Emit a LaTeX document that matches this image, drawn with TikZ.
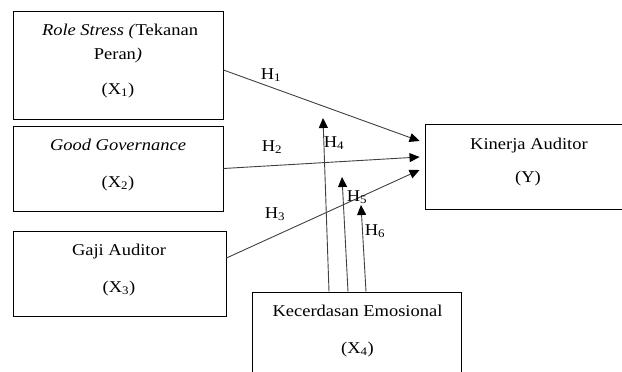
\documentclass[tikz,border=0pt]{standalone}
\usepackage{fontspec}
\setmainfont{Liberation Serif}
\usetikzlibrary{arrows.meta}
\usetikzlibrary{positioning}
\usetikzlibrary{calc}

\tikzset{
  varbox/.style={draw=black, line width=0.9pt, inner sep=0pt},
  txt/.style={anchor=base, inner sep=0pt, font=\fontsize{16.5}{19}\selectfont,
              xscale=1.12, transform shape},
  hyp/.style={draw=black!75, line width=0.9pt,
              -{Triangle[length=10pt,width=9pt,color=black]}},
  hlbl/.style={inner sep=0pt, font=\fontsize{16.5}{19}\selectfont,
               xscale=1.12, transform shape}
}

\begin{document}
\begin{tikzpicture}[x=1pt, y=-1pt]
  \useasboundingbox (0,0) rectangle (622,372);

  % variables
  \node[varbox, minimum width=210pt, minimum height=108pt] (x1) at (118,65) {};
  \node[varbox, minimum width=210pt, minimum height=85pt] (x2) at (118,168.5) {};
  \node[varbox, minimum width=213pt, minimum height=85pt] (x3) at (119.5,273.5) {};
  \node[varbox, minimum width=209pt, minimum height=108pt] (x4) at (356.5,346) {};
  \node[varbox, minimum width=208pt, minimum height=85pt] (ky) at (529,166.5) {};

  \node[txt] (x1a) at (120,35) {\textit{Role Stress (}Tekanan};
  \node[txt] (x1b) at (118,59) {Peran\textit{)}};
  \node[txt] (x1c) at (118,94) {(X\textsubscript{1})};
  \node[txt] (x2a) at (118,150) {\textit{Good Governance}};
  \node[txt] (x2c) at (118,187) {(X\textsubscript{2})};
  \node[txt] (x3a) at (119,255) {Gaji Auditor};
  \node[txt] (x3c) at (119,292) {(X\textsubscript{3})};
  \node[txt] (x4a) at (357.5,316) {Kecerdasan Emosional};
  \node[txt] (x4c) at (357.5,353) {(X\textsubscript{4})};
  \node[txt] (kya) at (529,149) {Kinerja Auditor};
  \node[txt] (kyc) at (528,182) {(Y)};

  % hypotheses
  \coordinate (t4) at (323,118);
  \coordinate (t5) at (342,177);
  \coordinate (t6) at (361,205);

  \draw[hyp] ($(x1.east)+(0,5)$) -- ($(ky.west)+(-5,-25.5)$);
  \draw[hyp] (x2.east) -- ($(ky.west)+(-5,-9.5)$);
  \draw[hyp] ($(x3.east)+(0,-15.5)$) -- ($(ky.west)+(-5,3.5)$);
  \draw[hyp] ($(x4.north)+(-27.5,0)$) -- (t4);
  \draw[hyp] ($(x4.north)+(-8.5,0)$) -- (t5);
  \draw[hyp] ($(x4.north)+(9.5,0)$) -- (t6);

  \node[hlbl] (h1) at (271,75) {H\textsubscript{1}};
  \node[hlbl] (h2) at (272,147) {H\textsubscript{2}};
  \node[hlbl] (h3) at (275,214) {H\textsubscript{3}};
  \node[hlbl] (h4) at (334,143) {H\textsubscript{4}};
  \node[hlbl] (h5) at (357,197) {H\textsubscript{5}};
  \node[hlbl] (h6) at (375,231) {H\textsubscript{6}};
\end{tikzpicture}
\end{document}
